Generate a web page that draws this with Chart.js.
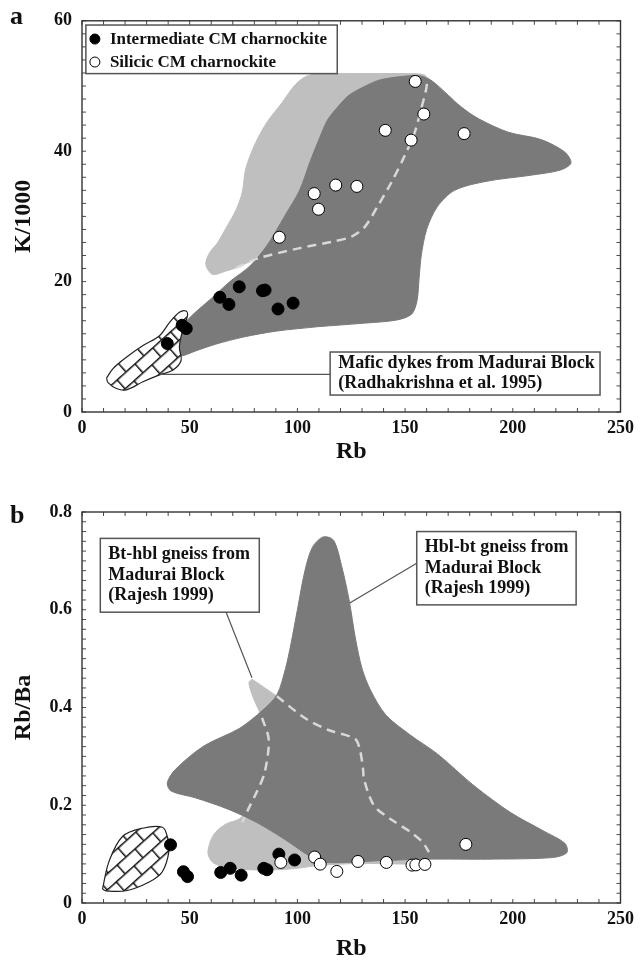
<!DOCTYPE html>
<html>
<head>
<meta charset="utf-8">
<script src="https://cdn.jsdelivr.net/npm/chart.js@4.4.1/dist/chart.umd.min.js"></script>
<style>
  body { margin: 0; background: #fff; }
  canvas { display: block; }
</style>
</head>
<body>
<canvas id="chartA" width="640" height="485"></canvas>
<canvas id="chartB" width="640" height="486"></canvas>
<script>
// ---- data ----
const seriesNames = ['Intermediate CM charnockite', 'Silicic CM charnockite'];
const xTicks = [0, 50, 100, 150, 200, 250];
const yTicksA = [0, 20, 40, 60];
const yTicksB = [0, 0.2, 0.4, 0.6, 0.8];

// panel a: Rb vs K/1000
const interA = [[39.6, 10.5], [46.5, 13.3], [48.4, 12.8], [64, 17.6], [68.2, 16.5], [73, 19.2],
  [83.8, 18.6], [85, 18.7], [91, 15.8], [98, 16.7]];
const silicA = [[91.6, 26.8], [107.8, 33.5], [109.8, 31.1], [117.8, 34.8], [127.6, 34.6],
  [140.8, 43.2], [152.8, 41.7], [154.7, 50.7], [158.7, 45.7], [177.4, 42.7]];
const darkA = [[110, 13.1], [130, 13.6], [146, 14.1], [153, 15.0], [155.5, 17], [156.5, 20.5],
  [157.5, 24], [160, 28], [165, 31.5], [173, 34], [188, 35.4], [208, 36.3], [222, 37.1], [227, 38.2],
  [224, 39.9], [213, 41.8], [198, 42.9], [184, 45], [176, 46.8], [170, 48.6], [162, 50.9], [156, 51.6],
  [147, 51.4], [138, 50.9], [131, 49.9], [124, 48.6], [119, 46.9], [114, 44.8], [111, 42.6],
  [106, 38.5], [101, 34], [94, 30], [86, 25.6], [78, 22.4], [69, 20.1], [60, 17.4], [52, 15.1],
  [47, 13.4], [44, 12.0], [42, 10.5], [40.6, 9.0], [46, 8.6], [53, 9.4], [62, 10.4], [75, 11.5],
  [90, 12.4], [110, 13.1]];
const lightA = [[71.4, 22.1], [66.7, 21.6], [60.6, 21.1], [57.5, 22.6], [59, 24.3], [63, 26],
  [67, 28.3], [71.5, 31], [74.4, 33.7], [76, 37.3], [80.6, 41.3], [86, 44.5], [93, 47.5], [99, 50.2],
  [105, 51.6], [115, 51.9], [135, 51.9], [152, 51.9], [159, 51.7], [160.5, 51], [159.7, 49.4],
  [157.4, 46.4], [154.4, 42.8], [149.8, 39.3], [143.6, 35.2], [137.5, 31.7], [131.3, 28.4],
  [125.1, 26.9], [115.9, 26.1], [100.6, 25.1], [82.1, 23.6], [71.4, 22.1]];
const dashA = [[71.4, 22.1], [82.1, 23.6], [100.6, 25.1], [115.9, 26.1], [125.1, 26.9], [131.3, 28.4],
  [137.5, 31.7], [143.6, 35.2], [149.8, 39.3], [154.4, 42.8], [157.4, 46.4], [159.7, 49.4], [160.5, 51.4]];
const dykesA = [[11.4, 5.2], [14.5, 6.7], [20.6, 8.4], [28.3, 10.2], [36, 11.7], [40.6, 13.7],
  [45.2, 15.3], [48.3, 15.5], [49, 14.8], [46.7, 12.5], [45.2, 9.95], [46, 7.9], [42.1, 6.4],
  [36, 5.7], [28.3, 4.65], [20.6, 3.4], [16, 3.6], [12.1, 4.5], [11.4, 5.2]];

// panel b: Rb vs Rb/Ba
const interB = [[41.1, 0.119], [47.1, 0.064], [49, 0.054], [64.4, 0.0625], [68.8, 0.071],
  [73.9, 0.057], [84.4, 0.071], [85.9, 0.068], [91.4, 0.1], [98.7, 0.088]];
const silicB = [[92.3, 0.083], [108, 0.094], [110.6, 0.0795], [118.3, 0.0646], [128.1, 0.085],
  [141.3, 0.083], [153.2, 0.0775], [155, 0.078], [159.2, 0.079], [178.2, 0.12]];
const darkB = [[140, 0.087], [113, 0.083], [105.5, 0.0965], [94.2, 0.13], [81, 0.165], [67.8, 0.192],
  [52.8, 0.215], [41.4, 0.229], [39.6, 0.246], [43.3, 0.273], [56.5, 0.321], [73, 0.357], [84, 0.395],
  [90.5, 0.426], [94.5, 0.48], [97, 0.53], [100, 0.6], [103.5, 0.68], [107, 0.728], [112, 0.749],
  [116.8, 0.742], [120.5, 0.69], [124, 0.62], [127, 0.54], [130, 0.48], [134, 0.435], [141, 0.385],
  [152, 0.345], [165, 0.305], [182, 0.24], [199, 0.185], [214, 0.148], [224.2, 0.122], [225.1, 0.103],
  [218.5, 0.093], [188.4, 0.0897], [160.1, 0.0897], [140, 0.087]];
const lightB = [[78.9, 0.458], [90.5, 0.423], [103.6, 0.378], [114.4, 0.354], [126.7, 0.336],
  [129, 0.314], [130.5, 0.273], [130.9, 0.253], [135.6, 0.199], [143.2, 0.172], [152.6, 0.145],
  [158.2, 0.124], [161.1, 0.104], [160.5, 0.086], [155, 0.08], [130, 0.081], [110, 0.077], [100, 0.071],
  [90, 0.068], [78, 0.068], [67, 0.073], [61, 0.082], [58.5, 0.1], [59.5, 0.125], [62, 0.145],
  [67, 0.162], [73, 0.172], [77.2, 0.192], [81, 0.226], [84.8, 0.267], [86.7, 0.334], [83.6, 0.379],
  [79.5, 0.42], [77.5, 0.45], [78.9, 0.458]];
const dashB1 = [[90.5, 0.423], [103.6, 0.378], [114.4, 0.354], [126.7, 0.336], [129, 0.314],
  [130.5, 0.273], [130.9, 0.253], [135.6, 0.199], [143.2, 0.172], [152.6, 0.145], [158.2, 0.124],
  [161.1, 0.104]];
const dashB2 = [[83.6, 0.379], [86.7, 0.334], [84.8, 0.267], [81, 0.226], [77.2, 0.192], [74.4, 0.165]];
const dykesB = [[9.5, 0.0285], [12.6, 0.0857], [18.8, 0.136], [28.1, 0.153], [37.3, 0.155],
  [39.6, 0.136], [40.4, 0.107], [37.3, 0.064], [31.2, 0.043], [20.4, 0.025], [11.1, 0.025], [9.5, 0.0285]];

// ---- styling helpers ----
const SERIF = "'Liberation Serif', 'Times New Roman', serif";
const DARK = '#7a7a7a';
const LIGHT = '#bfbfbf';
const xy = arr => arr.map(([x, y]) => ({x, y}));

// brick hatching for the mafic dyke field
function brickPattern() {
  const c = document.createElement('canvas');
  c.width = 24; c.height = 24;
  const g = c.getContext('2d');
  g.fillStyle = '#fff';
  g.fillRect(0, 0, 24, 24);
  g.strokeStyle = '#111';
  g.lineWidth = 1.5;
  g.beginPath();
  g.moveTo(0, 0.75); g.lineTo(24, 0.75);
  g.moveTo(0, 12.75); g.lineTo(24, 12.75);
  g.moveTo(0.75, 0); g.lineTo(0.75, 12);
  g.moveTo(12.75, 12); g.lineTo(12.75, 24);
  g.stroke();
  const p = g.createPattern(c, 'repeat');
  p.setTransform(new DOMMatrix().rotate(-42));
  return p;
}
const bricks = brickPattern();

function field(data, color, order) {
  return {data: xy(data), fill: 'shape', backgroundColor: color, borderColor: color,
    borderWidth: 1, pointRadius: 0, tension: 0.3, order};
}
function dashed(data, order) {
  return {data: xy(data), fill: false, borderColor: '#d8d8d8', borderWidth: 2.5,
    borderDash: [9, 6], pointRadius: 0, tension: 0.3, order};
}
function hatched(data, order) {
  return {data: xy(data), fill: 'shape', backgroundColor: bricks, borderColor: '#222',
    borderWidth: 1.2, pointRadius: 0, tension: 0.35, order};
}
function dots(label, data, color, order) {
  return {label, data: xy(data), showLine: false, pointRadius: 6, pointBackgroundColor: color,
    pointBorderColor: '#000', pointBorderWidth: 1, order};
}

// frame, inward ticks, boxes, leader lines, legend and panel letter
const decor = {
  id: 'decor',
  afterDatasetsDraw(chart, args, o) {
    const {ctx, chartArea: a, scales: {x, y}} = chart;
    ctx.save();
    ctx.strokeStyle = '#333';
    ctx.lineWidth = 0.9;
    ctx.beginPath();
    for (let v = 0; v <= x.max + 1e-9; v += o.xMinor) {
      const px = x.getPixelForValue(v);
      ctx.moveTo(px, a.bottom); ctx.lineTo(px, a.bottom - 4);
      ctx.moveTo(px, a.top); ctx.lineTo(px, a.top + 4);
    }
    for (let v = 0; v <= y.max + 1e-9; v += o.yMinor) {
      const py = y.getPixelForValue(v);
      ctx.moveTo(a.left, py); ctx.lineTo(a.left + 4, py);
      ctx.moveTo(a.right, py); ctx.lineTo(a.right - 4, py);
    }
    ctx.stroke();
    ctx.lineWidth = 1.4;
    ctx.strokeRect(a.left, a.top, a.width, a.height);

    ctx.strokeStyle = '#555';
    ctx.lineWidth = 1.2;
    for (const [x0, y0, x1, y1] of o.leaders) {
      ctx.beginPath();
      ctx.moveTo(x.getPixelForValue(x0), y.getPixelForValue(y0));
      ctx.lineTo(x.getPixelForValue(x1), y.getPixelForValue(y1));
      ctx.stroke();
    }

    const box = b => {
      const l = x.getPixelForValue(b.x0), r = x.getPixelForValue(b.x1);
      const t = y.getPixelForValue(b.y0), bt = y.getPixelForValue(b.y1);
      ctx.fillStyle = '#fff';
      ctx.fillRect(l, t, r - l, bt - t);
      ctx.strokeStyle = '#555';
      ctx.lineWidth = 1.5;
      ctx.strokeRect(l, t, r - l, bt - t);
      return {l, t, r, bt};
    };

    ctx.textBaseline = 'middle';
    for (const b of o.boxes) {
      const {l, t, bt} = box(b);
      ctx.font = `bold 18px ${SERIF}`;
      ctx.fillStyle = '#111';
      const mid = (t + bt) / 2;
      b.lines.forEach((s, i) => {
        ctx.fillText(s, l + 8, mid + (i - (b.lines.length - 1) / 2) * 20.5);
      });
    }

    if (o.legend) {
      const {l, t} = box(o.legend);
      ctx.font = `bold 17px ${SERIF}`;
      chart.data.datasets.filter(d => d.label).forEach((d, i) => {
        const cy = t + 14 + i * 23;
        ctx.beginPath();
        ctx.arc(l + 9, cy, 5, 0, Math.PI * 2);
        ctx.fillStyle = d.pointBackgroundColor;
        ctx.fill();
        ctx.strokeStyle = '#000';
        ctx.lineWidth = 1;
        ctx.stroke();
        ctx.fillStyle = '#111';
        ctx.fillText(d.label, l + 24, cy + 1);
      });
    }

    ctx.font = `bold 26px ${SERIF}`;
    ctx.textBaseline = 'alphabetic';
    ctx.fillStyle = '#111';
    ctx.fillText(o.letter, 10, o.letterY);
    ctx.restore();
  }
};

function makeChart(id, cfg) {
  const tickFont = {family: SERIF, size: 18, weight: 'bold'};
  const titleFont = {family: SERIF, size: 24, weight: 'bold'};
  return new Chart(document.getElementById(id), {
    type: 'line',
    data: {datasets: cfg.datasets},
    plugins: [decor],
    options: {
      responsive: false,
      animation: false,
      events: [],
      layout: {padding: {top: cfg.padTop, right: 16, left: 0, bottom: 0}},
      scales: {
        x: {
          type: 'linear', min: 0, max: 250,
          afterBuildTicks: s => { s.ticks = xTicks.map(v => ({value: v})); },
          ticks: {font: tickFont, color: '#111', padding: 6, maxRotation: 0, autoSkip: false},
          grid: {display: false, drawTicks: false},
          border: {display: false},
          title: {display: true, text: 'Rb', font: titleFont, color: '#111',
            padding: {top: 0, bottom: cfg.titlePad}},
          afterFit: s => { s.height = cfg.xHeight; }
        },
        y: {
          type: 'linear', min: 0, max: cfg.yMax,
          afterBuildTicks: s => { s.ticks = cfg.yTicks.map(v => ({value: v})); },
          ticks: {font: tickFont, color: '#111', padding: 10, autoSkip: false},
          grid: {display: false, drawTicks: false},
          border: {display: false},
          title: {display: true, text: cfg.yTitle, font: titleFont, color: '#111',
            padding: {top: 9, bottom: 0}},
          afterFit: s => { s.width = 82; }
        }
      },
      plugins: {
        legend: {display: false},
        tooltip: {enabled: false},
        decor: cfg.decor
      }
    }
  });
}

makeChart('chartA', {
  padTop: 17, xHeight: 73, titlePad: 19, yMax: 60, yTicks: yTicksA, yTitle: 'K/1000',
  datasets: [
    field(lightA, LIGHT, 6),
    field(darkA, DARK, 5),
    dashed(dashA, 4),
    hatched(dykesA, 3),
    dots(seriesNames[0], interA, '#000', 2),
    dots(seriesNames[1], silicA, '#fff', 1)
  ],
  decor: {
    letter: 'a', letterY: 24, xMinor: 10, yMinor: 2,
    leaders: [[115.2, 5.76, 36, 5.76]],
    boxes: [{x0: 115.2, x1: 240.5, y0: 9.2, y1: 2.6,
      lines: ['Mafic dykes from Madurai Block', '(Radhakrishna et al. 1995)']}],
    legend: {x0: 1.8, x1: 118.5, y0: 59.35, y1: 51.9}
  }
});

makeChart('chartB', {
  padTop: 27, xHeight: 68, titlePad: 8, yMax: 0.8, yTicks: yTicksB, yTitle: 'Rb/Ba',
  datasets: [
    field(lightB, LIGHT, 7),
    field(darkB, DARK, 6),
    dashed(dashB1, 5),
    dashed(dashB2, 4),
    hatched(dykesB, 3),
    dots(seriesNames[0], interB, '#000', 2),
    dots(seriesNames[1], silicB, '#fff', 1)
  ],
  decor: {
    letter: 'b', letterY: 38, xMinor: 10, yMinor: 0.02,
    leaders: [[66.9, 0.595, 78.9, 0.461], [155.4, 0.695, 124.3, 0.614]],
    boxes: [
      {x0: 8.5, x1: 82.3, y0: 0.746, y1: 0.595,
        lines: ['Bt-hbl gneiss from', 'Madurai Block', '(Rajesh 1999)']},
      {x0: 155.4, x1: 229.4, y0: 0.76, y1: 0.61,
        lines: ['Hbl-bt gneiss from', 'Madurai Block', '(Rajesh 1999)']}
    ]
  }
});
</script>
</body>
</html>
